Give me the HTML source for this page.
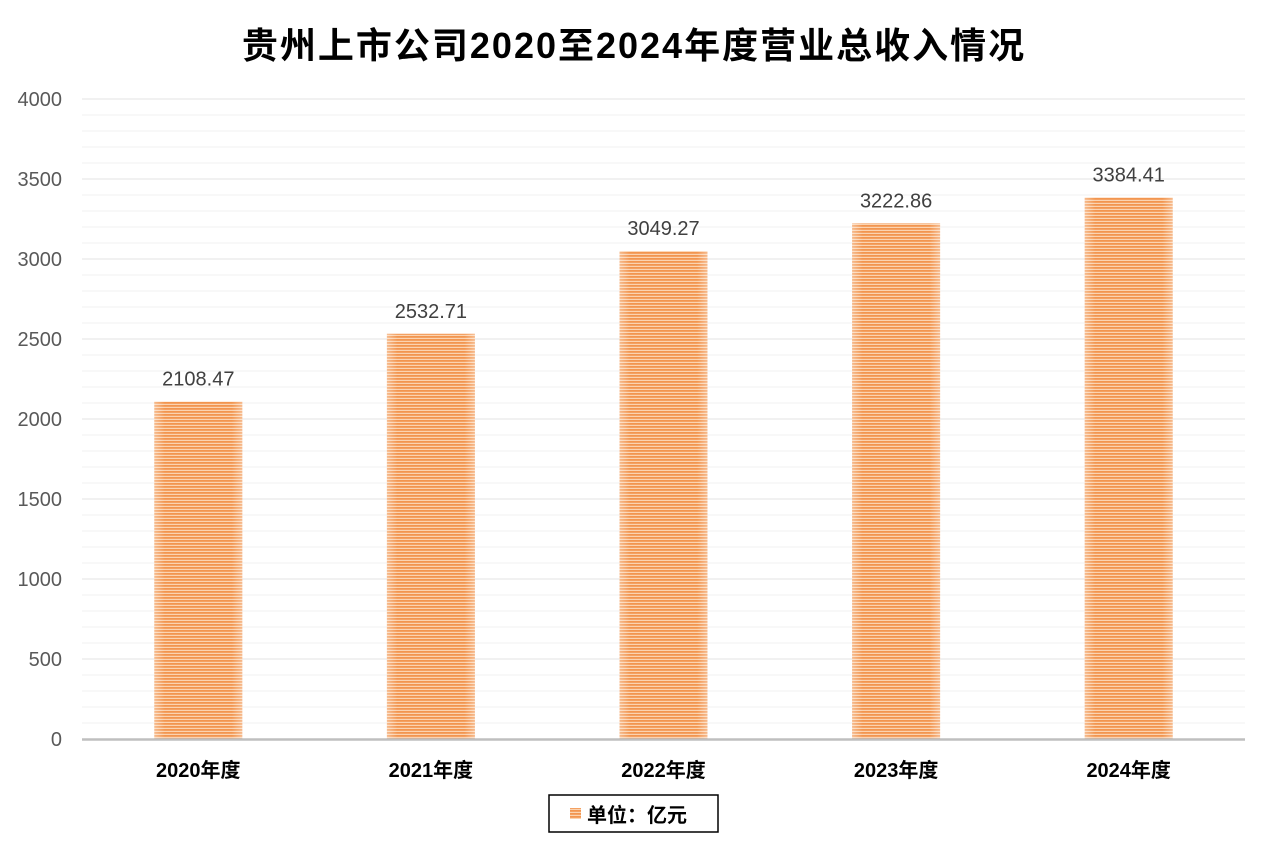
<!DOCTYPE html>
<html><head><meta charset="utf-8"><style>
body{margin:0;background:#fff;}
svg text{font-family:"Liberation Sans","Noto Sans CJK SC",sans-serif;}
</style></head><body>
<svg width="1268" height="845" xmlns="http://www.w3.org/2000/svg">
<defs>
<pattern id="stripe" width="4" height="3" patternUnits="userSpaceOnUse">
<rect width="4" height="3" fill="#fbd3b0"/>
<rect width="4" height="1.8" fill="#f2954f"/>
</pattern>
<linearGradient id="edge" x1="0" x2="1" y1="0" y2="0">
<stop offset="0" stop-color="#fff" stop-opacity="0.35"/>
<stop offset="0.12" stop-color="#fff" stop-opacity="0"/>
<stop offset="0.88" stop-color="#fff" stop-opacity="0"/>
<stop offset="1" stop-color="#fff" stop-opacity="0.35"/>
</linearGradient>
</defs>
<text x="634" y="58" text-anchor="middle" font-size="36" font-weight="bold" fill="#000" letter-spacing="2">贵州上市公司2020至2024年度营业总收入情况</text>
<g id="grid"></g>
<g id="bars"></g>
<g id="axes"></g>
<rect x="549" y="795" width="169" height="37" fill="#fff" stroke="#000" stroke-width="1.5"/>
<rect x="570" y="808" width="11" height="11" fill="url(#stripe)"/>
<text x="587" y="822" font-size="20" font-weight="bold" fill="#000">单位：亿元</text>
</svg>
<script>
const categories=["2020年度","2021年度","2022年度","2023年度","2024年度"];
const values=[2108.47,2532.71,3049.27,3222.86,3384.41];
const yTicks=[0,500,1000,1500,2000,2500,3000,3500,4000];
const NS="http://www.w3.org/2000/svg";
const x0=82,x1=1245,y0=739,y1=99,ymax=4000;
const yS=v=>y0-(v/ymax)*(y0-y1);
const bw=(x1-x0)/categories.length;
const xS=i=>x0+bw*(i+0.5);
function mk(t,a,p){const e=document.createElementNS(NS,t);for(const k in a)e.setAttribute(k,a[k]);p.appendChild(e);return e;}
const grid=document.getElementById('grid'),bars=document.getElementById('bars'),axes=document.getElementById('axes');
for(let v=100;v<=ymax;v+=100){
 const l=mk('line',{x1:x0,x2:x1,y1:yS(v),y2:yS(v),stroke:v%500===0?'#e3e3e3':'#f1f1f1','stroke-width':1},grid);
 
 
}
yTicks.forEach(v=>{
 const t=mk('text',{x:62,y:yS(v)+7,'text-anchor':'end','font-size':20,fill:'#595959'},axes);
 t.textContent=v;
 
 
});
const ax=mk('line',{x1:x0,x2:x1,y1:y0+0.5,y2:y0+0.5,stroke:'#bfbfbf','stroke-width':2.5},axes);


categories.forEach((c,i)=>{
 const cx=xS(i),w=88,y=yS(values[i]);
 const r=mk('rect',{x:cx-w/2,y:y,width:w,height:y0-y,fill:'url(#stripe)'},bars);
 
 
 const g=mk('rect',{x:cx-w/2,y:y,width:w,height:y0-y,fill:'url(#edge)'},bars);
 
 
 const vl=mk('text',{x:cx,y:y-16,'text-anchor':'middle','font-size':20,fill:'#404040'},bars);
 vl.textContent=values[i].toFixed(2);
 
 
 const xl=mk('text',{x:cx,y:777,'text-anchor':'middle','font-size':20,'font-weight':'bold',fill:'#000'},axes);
 xl.textContent=c;
 
 
});
</script>
</body></html>
